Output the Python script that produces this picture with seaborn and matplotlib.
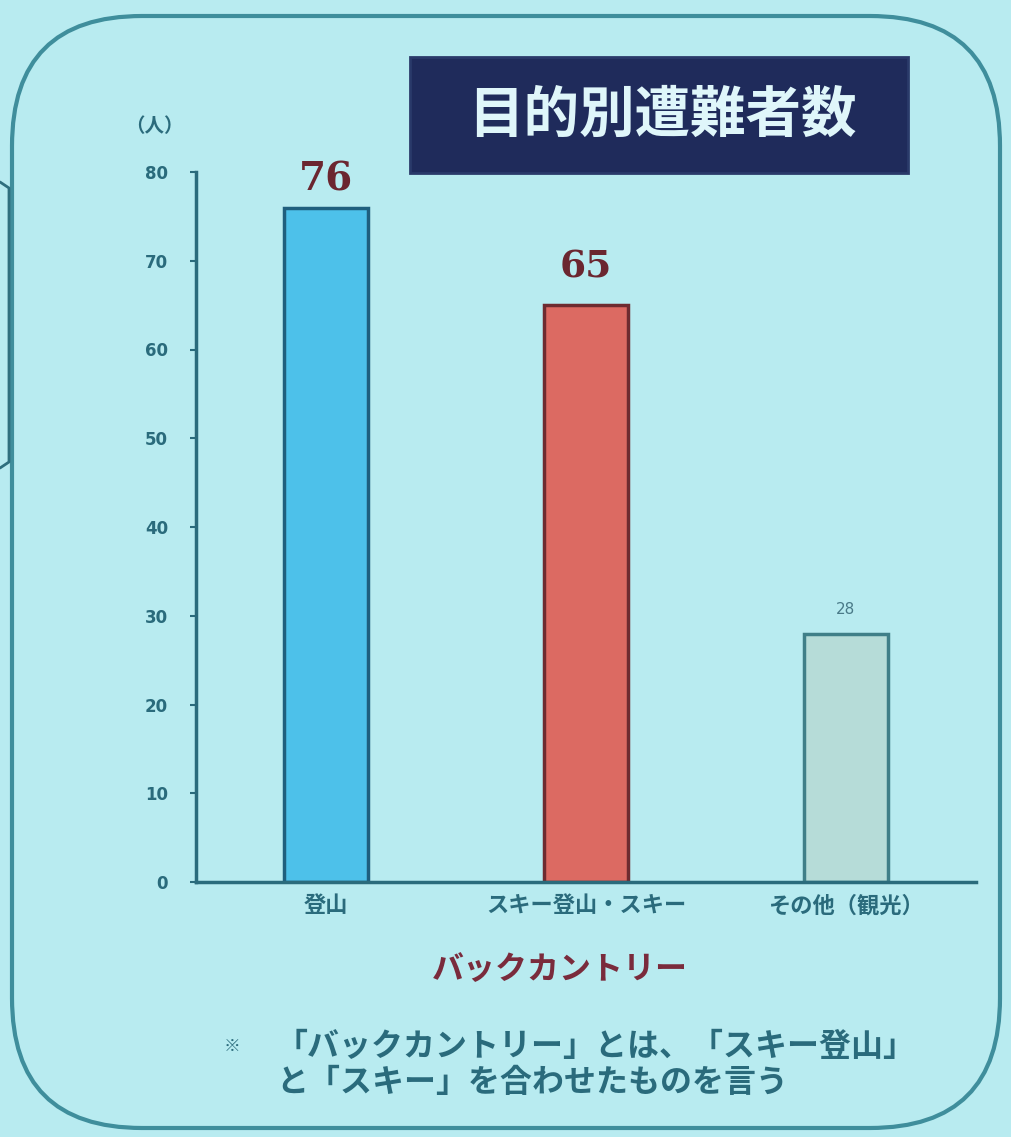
import matplotlib
matplotlib.use("Agg")
import matplotlib.pyplot as plt
from matplotlib.patches import FancyBboxPatch, Rectangle
import seaborn as sns
import pandas as pd

sns.set_theme(style="white")
plt.rcParams['font.family'] = ['Noto Sans CJK JP', 'DejaVu Sans']

categories = ["登山", "スキー登山・スキー", "その他（観光）"]
values = [76, 65, 28]
value_labels = ["76", "65", "28"]
yticks = [0, 10, 20, 30, 40, 50, 60, 70, 80]
title = "目的別遭難者数"
unit = "（人）"
group_label = "バックカントリー"
note_mark = "※"
note_lines = ["「バックカントリー」とは、「スキー登山」", "と「スキー」を合わせたものを言う"]

bg = "#b8ebf0"
ink = "#2a6b7c"
bar_colors = ["#4dc1ea", "#dc6a62", "#b6dcd8"]
edge_colors = ["#1f5f7e", "#6e2b30", "#3f7f88"]

W, H = 1012, 1137
fig = plt.figure(figsize=(W / 100, H / 100), dpi=100, facecolor=bg)

# overlay in pixel coordinates for decorations
ov = fig.add_axes([0, 0, 1, 1], zorder=0)
ov.set_xlim(0, W)
ov.set_ylim(H, 0)
ov.axis("off")
ov.patch.set_alpha(0)
frame = FancyBboxPatch((12, 16), 988, 1112, boxstyle="round,pad=0,rounding_size=130",
                       fill=False, edgecolor="#3f8e9c", linewidth=3)
ov.add_patch(frame)
ov.plot([0, 9, 9, 0], [182, 188, 462, 468], color="#2f6f7e", linewidth=2)
ov.add_patch(Rectangle((410, 57), 498, 116, facecolor="#1f2b5b", edgecolor="#2a3a6a", linewidth=2))
ov.text(662, 116, title, ha="center", va="center", fontsize=40, fontweight="bold", color="#dff6fa")
ov.text(154, 127, unit, ha="center", va="center", fontsize=14, fontweight="bold", color=ink)
ov.text(560, 970, group_label, ha="center", va="center", fontsize=23, fontweight="bold", color="#7a2b3c")
ov.text(232, 1046, note_mark, ha="center", va="center", fontsize=12, color=ink)
ov.text(276, 1047, note_lines[0], ha="left", va="center", fontsize=23, fontweight="bold", color=ink)
ov.text(276, 1083, note_lines[1], ha="left", va="center", fontsize=23, fontweight="bold", color=ink)

ax = fig.add_axes([196 / W, 1 - 882 / H, 780 / W, 710 / H], zorder=1)
ax.patch.set_alpha(0)
df = pd.DataFrame({"cat": categories, "val": values})
sns.barplot(data=df, x="cat", y="val", hue="cat", palette=bar_colors, legend=False,
            width=0.32, ax=ax, saturation=1)
for p, ec in zip(ax.patches, edge_colors):
    p.set_edgecolor(ec)
    p.set_linewidth(2.5)

ax.set_xlim(-0.5, 2.5)
ax.set_ylim(0, 80)
ax.set_yticks(yticks)
ax.set_yticklabels([str(t) for t in yticks], fontsize=12, fontweight="bold", color=ink,
                   family="DejaVu Sans")
ax.set_xticks(range(len(categories)))
ax.set_xticklabels(categories, fontsize=16, fontweight="bold", color=ink)
ax.set_xlabel("")
ax.set_ylabel("")
for s in ["top", "right"]:
    ax.spines[s].set_visible(False)
for s in ["left", "bottom"]:
    ax.spines[s].set_color(ink)
    ax.spines[s].set_linewidth(2.5)
ax.tick_params(axis="y", length=4, width=1.5, color=ink, pad=16, left=True)
ax.tick_params(axis="x", length=0, pad=9)

styles = [dict(fontsize=28, fontweight="bold", color="#6b2630", family="DejaVu Serif"),
          dict(fontsize=27, fontweight="bold", color="#6b2630", family="DejaVu Serif"),
          dict(fontsize=11, fontweight="normal", color="#4a7a88", family="DejaVu Sans")]
offsets = [1.0, 2.2, 1.9]
for i, (v, lab) in enumerate(zip(values, value_labels)):
    ax.text(i, v + offsets[i], lab, ha="center", va="bottom", **styles[i])

fig.savefig("out.png", dpi=100, facecolor=bg)
